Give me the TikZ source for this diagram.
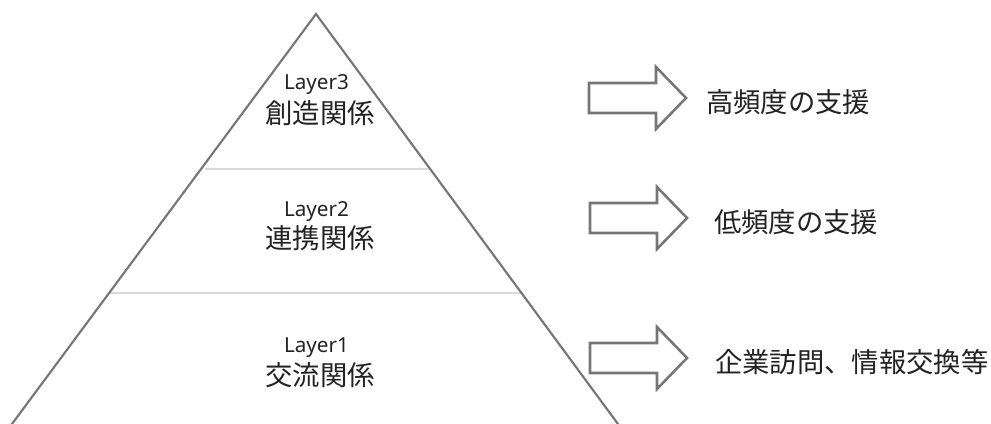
\documentclass[tikz,border=0pt]{standalone}
\usepackage{fontspec}
\newfontfamily\jpfont{Noto Sans CJK JP}
\newfontfamily\latfont{Noto Sans}
\definecolor{edgegray}{HTML}{767676}
\definecolor{sepgray}{HTML}{D9D9D9}
\definecolor{txt}{HTML}{222222}
\tikzset{
  pyr/.style={draw=edgegray, line width=1.6pt, line join=miter},
  sepline/.style={draw=sepgray, line width=2.2pt},
  blockarrow/.style={draw=edgegray, line width=1.9pt, line join=miter, fill=white},
  layerlbl/.style={font=\latfont\fontsize{15.5}{18}\selectfont, text=txt, inner sep=0pt, anchor=base},
  kanjilbl/.style={font=\jpfont\fontsize{20.5}{24}\selectfont, text=txt, inner sep=0pt, anchor=center},
  sidelbl/.style={font=\jpfont\fontsize{20.5}{24}\selectfont, text=txt, inner sep=0pt, anchor=west},
  pics/bigarrow/.style={code={
    \draw[blockarrow] (-49,-15) -- (18,-15) -- (18,-31) -- (48,0) -- (18,31) -- (18,15) -- (-49,15) -- cycle;
  }}
}
\begin{document}
\begin{tikzpicture}[x=0.75pt, y=-0.75pt]
\useasboundingbox (0,0) rectangle (991,424);
\begin{scope}
\clip (0,0) rectangle (991,424);
% pyramid
\coordinate (apex) at (316,14);
\coordinate (bl) at (7.5,430);
\coordinate (br) at (622.4,430);
\draw[sepline] (205,169) -- (428,169);
\draw[sepline] (110,293) -- (521,293);
\draw[pyr] (bl) -- (apex) -- (br);
\end{scope}
% layer labels
\node[layerlbl] (l3) at (316.5,90) {Layer3};
\node[kanjilbl] (k3) at (320,113) {創造関係};
\node[layerlbl] (l2) at (316.5,216) {Layer2};
\node[kanjilbl] (k2) at (320,238) {連携関係};
\node[layerlbl] (l1) at (316.5,352) {Layer1};
\node[kanjilbl] (k1) at (320,375) {交流関係};
% arrows
\pic at (638,98) {bigarrow};
\pic at (639,218) {bigarrow};
\pic at (639,358) {bigarrow};
% side labels
\node[sidelbl] (s3) at (706,102) {高頻度の支援};
\node[sidelbl] (s2) at (714,222) {低頻度の支援};
\node[sidelbl] (s1) at (715,362) {企業訪問、情報交換等};
\end{tikzpicture}
\end{document}
